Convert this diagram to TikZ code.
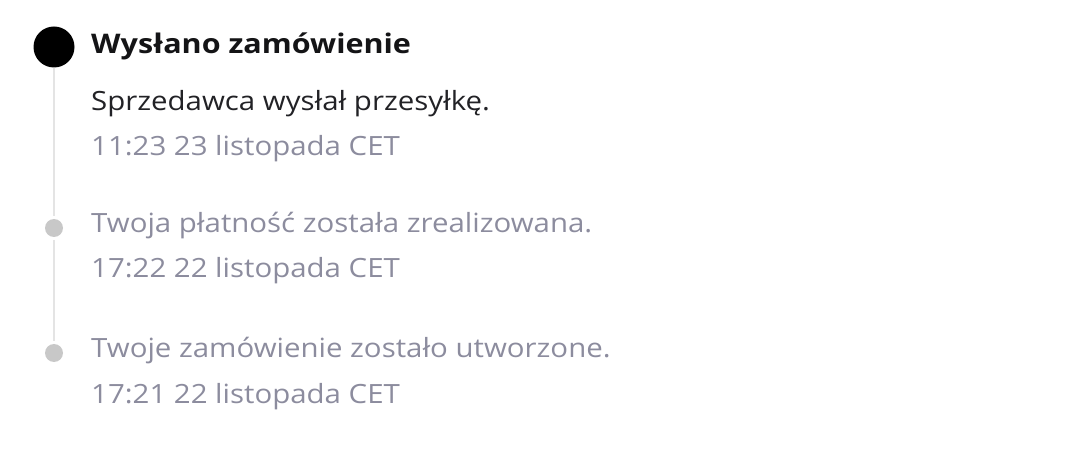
\documentclass[tikz,border=0pt]{standalone}
\usepackage{fontspec}
\setmainfont{Open Sans}[FakeStretch=1.11]
\newfontfamily\titlefont{Open Sans}[FakeStretch=1.13]
\definecolor{titlec}{RGB}{20,20,22}
\definecolor{bodyc}{RGB}{34,34,38}
\definecolor{grayt}{RGB}{140,140,158}
\definecolor{linec}{RGB}{228,228,228}
\definecolor{dotc}{RGB}{200,200,200}
\tikzset{
  txt/.style={anchor=base west, inner sep=0pt, font=\fontsize{26.5}{30}\selectfont},
  title/.style={txt, text=titlec, font=\titlefont\fontsize{27}{30}\selectfont\bfseries},
  body/.style={txt, text=bodyc},
  meta/.style={txt, text=grayt},
  bigdot/.style={circle, fill=black, minimum size=41pt, inner sep=0pt},
  smalldot/.style={circle, fill=dotc, minimum size=18pt, inner sep=0pt},
  track/.style={linec, line width=2pt, shorten >=3pt, shorten <=3pt},
}
\begin{document}
\begin{tikzpicture}[x=1pt,y=-1pt]
\useasboundingbox (0,0) rectangle (1080,465);
\node[bigdot] (d1) at (54,47) {};
\node[smalldot] (d2) at (54,228) {};
\node[smalldot] (d3) at (54,353) {};
\draw[track, shorten <=0pt] (d1.south) -- (d2.north);
\draw[track] (d2.south) -- (d3.north);
\node[title] (t1) at (91,53.5) {Wysłano zamówienie};
\node[body] (b1) at (91,111) {Sprzedawca wysłał przesyłkę.};
\node[meta] (m1) at (91,156) {11:23 23 listopada CET};
\node[meta] (b2) at (91,233) {Twoja płatność została zrealizowana.};
\node[meta] (m2) at (91,278) {17:22 22 listopada CET};
\node[meta] (b3) at (91,358) {Twoje zamówienie zostało utworzone.};
\node[meta] (m3) at (91,403) {17:21 22 listopada CET};
\end{tikzpicture}
\end{document}
